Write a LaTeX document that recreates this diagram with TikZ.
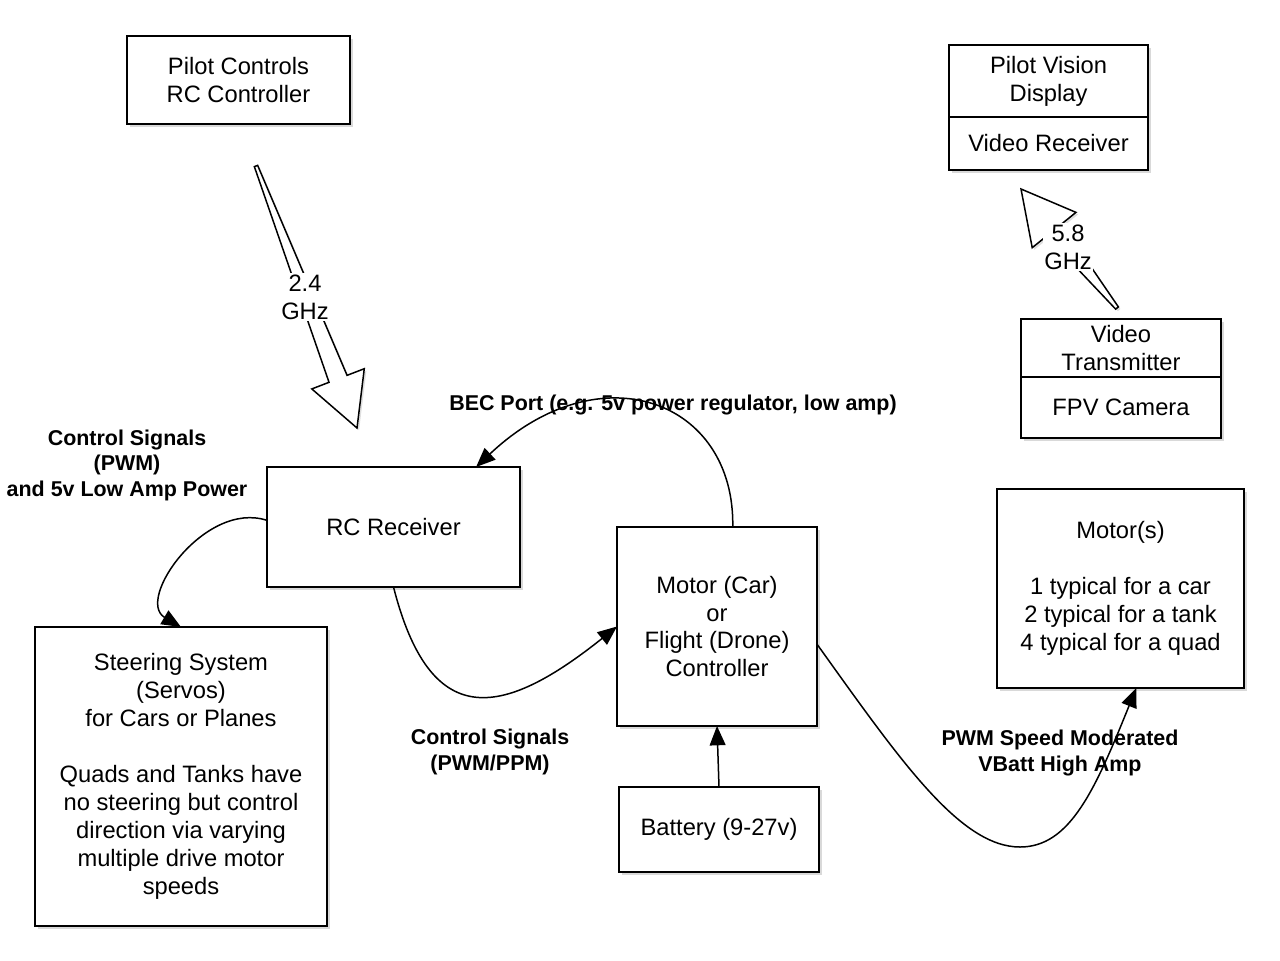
\documentclass[tikz,border=0pt]{standalone}
\usepackage{fontspec}
\setmainfont{Liberation Sans}
\usetikzlibrary{positioning,shadows,calc,arrows.meta}

\tikzset{
  box/.style={draw, line width=1pt, fill=white, align=center, inner sep=0pt, outer sep=0pt,
    font=\fontsize{13.5}{15.9}\selectfont,
    drop shadow={shadow xshift=1.6pt, shadow yshift=-1.6pt, opacity=.3}},
  lbl/.style={align=center, font=\bfseries\fontsize{12.2}{14.5}\selectfont},
  wire/.style={line width=.85pt, -{Triangle[length=11pt,width=9pt]}},
  wave/.style={line width=.85pt, fill=white, line join=miter,
    drop shadow={shadow xshift=1.2pt, shadow yshift=-1.2pt, opacity=.25}},
  ghz/.style={align=center, fill=white, inner sep=1pt, font=\fontsize{13.5}{15.9}\selectfont}
}

% hollow radio arrow from #1 to #2
\newcommand{\radioarrow}[2]{%
  \draw[wave] ($(#1)!1pt!90:(#2)$)
    -- ($(#2)!30pt!(#1)!5.5pt!-90:(#1)$)
    -- ($(#2)!30pt!(#1)!16pt!-90:(#1)$)
    -- (#2)
    -- ($(#2)!30pt!(#1)!16pt!90:(#1)$)
    -- ($(#2)!30pt!(#1)!5.5pt!90:(#1)$)
    -- ($(#1)!1pt!-90:(#2)$) -- cycle;}

\begin{document}
\begin{tikzpicture}[x=0.02cm, y=-0.02cm]
    \useasboundingbox (0,0) rectangle (1280,960);

    % pilot side
    \node[box, minimum width=4.46cm, minimum height=1.76cm] (pilot) at (238.5,80) {Pilot Controls\\RC Controller};
    \node[box, minimum width=3.98cm, minimum height=1.44cm] (vision) at (1048.5,81) {Pilot Vision\\Display};
    \node[box, minimum width=3.98cm, minimum height=1.06cm, below=0pt of vision] (vrx) {Video Receiver};

    % vehicle side
    \node[box, minimum width=4cm, minimum height=1.16cm] (vtx) at (1121,348) {Video\\Transmitter};
    \node[box, minimum width=4cm, minimum height=1.22cm, below=0pt of vtx] (cam) {FPV Camera};
    \node[box, minimum width=5.06cm, minimum height=2.4cm] (rx) at (393.5,527) {RC Receiver};
    \node[box, minimum width=5.84cm, minimum height=5.98cm] (steer) at (181,776.5)
        {Steering System\\(Servos)\\for Cars or Planes\\[15.9pt]Quads and Tanks have\\no steering but control\\direction via varying\\multiple drive motor\\speeds};
    \node[box, minimum width=4cm, minimum height=3.98cm] (ctrl) at (717,626.5) {Motor (Car)\\or\\Flight (Drone)\\Controller};
    \node[box, minimum width=4cm, minimum height=1.7cm] (bat) at (719,829.5) {Battery (9-27v)};
    \node[box, minimum width=4.94cm, minimum height=3.98cm] (motor) at (1120.5,588.5)
        {Motor(s)\\[15.9pt]1 typical for a car\\2 typical for a tank\\4 typical for a quad};

    % radio links
    \coordinate (rcfrom) at (256,166);
    \coordinate (rcto) at (357,428);
    \coordinate (vidfrom) at (1117,308);
    \coordinate (vidto) at (1021,189);
    \radioarrow{rcfrom}{rcto}
    \radioarrow{vidfrom}{vidto}
    \node[ghz] (rcghz) at (305,297) {2.4\\GHz};
    \node[ghz] (vidghz) at (1068,247) {5.8\\GHz};

    % wiring
    \draw[wire] (rx.177) .. controls (205,500) and (135,600) .. (steer.north);
    \draw[wire] (rx.south) .. controls (430,730) and (500,720) .. (ctrl.west);
    \draw[wire] (ctrl.81) .. controls (735,400) and (600,350) .. (rx.36);
    \draw[wire] (bat.north) -- (ctrl.south);
    \draw[wire] (ctrl.-10) .. controls (900,760) and (960,847) .. (1020,847)
        .. controls (1070,847) and (1095,790) .. (motor.-81);

    \node[lbl] (servolbl) at (127,465) {Control Signals\\(PWM)\\and 5v Low Amp Power};
    \node[lbl] (beclbl) at (673,405) {BEC Port (e.g. 5v power regulator, low amp)};
    \node[lbl] (ppmlbl) at (490,752) {Control Signals\\(PWM/PPM)};
    \node[lbl] (vbatlbl) at (1060,753) {PWM Speed Moderated\\VBatt High Amp};
\end{tikzpicture}
\end{document}
